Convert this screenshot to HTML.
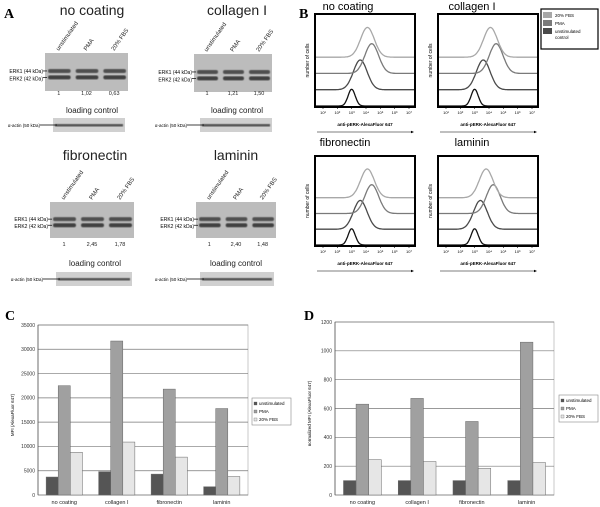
<!DOCTYPE html>
<html><head><meta charset="utf-8"><style>
body{margin:0;background:#fff;}
svg{display:block;font-family:"Liberation Sans",sans-serif;}
</style></head><body>
<svg id="fig" width="600" height="507" viewBox="0 0 600 507">
<defs><filter id="blur"><feGaussianBlur stdDeviation="0.6"/></filter></defs>
<g id="panelA"></g>
<g id="panelB"></g>
<g id="panelC"></g>
<g id="panelD"></g>
</svg>
<script>
const categories = ["no coating","collagen I","fibronectin","laminin"];
const seriesNames = ["unstimulated","PMA","20% FBS"];
const mfiUnstim = [3700, 4800, 4300, 1700];
const mfiPMA = [22500, 31700, 21800, 17800];
const mfiFBS = [8800, 10900, 7800, 3800];
const normUnstim = [100, 100, 100, 100];
const normPMA = [630, 670, 510, 1060];
const normFBS = [245, 232, 185, 225];
const ticksC = [0,5000,10000,15000,20000,25000,30000,35000];
const ticksD = [0,200,400,600,800,1000,1200];
const blotRatios = [["1","1,02","0,63"],["1","1,21","1,50"],["1","2,45","1,78"],["1","2,40","1,48"]];
// histogram peaks (log10 position) per panel: black, unstim control, PMA, FBS
const histPeaks = [[3.0,3.6,4.4,4.1],[3.0,3.6,4.5,4.1],[3.0,3.6,4.4,4.1],[3.0,3.4,4.3,3.8]];
const histTitles = ["no coating","collagen I","fibronectin","laminin"];

const NS="http://www.w3.org/2000/svg";
function mk(parent,tag,attrs,text){const e=document.createElementNS(NS,tag);for(const k in attrs)e.setAttribute(k,attrs[k]);if(text!==undefined)e.textContent=text;parent.appendChild(e);return e;}

/* ---------- Panel A ---------- */
const A=document.getElementById('panelA');
let t=mk(A,'text',{x:4,y:18,'font-family':'Liberation Serif','font-weight':'bold','font-size':14},'A');

const blots=[{title:"no coating",tx:92,ty:15,gx:45,gy:53,gw:83,gh:38,lx:44,ny:95,ly:113,ax:53,ay:118,aw:72},
{title:"collagen I",tx:237,ty:15,gx:194,gy:54,gw:78,gh:38,lx:193,ny:95,ly:113,ax:200,ay:118,aw:72},
{title:"fibronectin",tx:95,ty:160,gx:50,gy:202,gw:84,gh:36,lx:49,ny:246,ly:266,ax:56,ay:272,aw:76},
{title:"laminin",tx:236,ty:160,gx:196,gy:202,gw:80,gh:36,lx:195,ny:246,ly:266,ax:200,ay:272,aw:74}];
blots.forEach((b,i)=>{
  const g=mk(A,'g',{});
  t=mk(g,'text',{x:b.tx,y:b.ty,'font-size':14,'text-anchor':'middle',fill:'#222'},b.title);
  
  const gel=mk(g,'rect',{x:b.gx,y:b.gy,width:b.gw,height:b.gh,fill:'#bcbcbc'});
  
  const lw=b.gw/3;
  for(let l=0;l<3;l++){
    const cx=b.gx+lw*l+3;
    mk(g,'rect',{x:cx,y:b.gy+b.gh*0.42,width:lw-5,height:4,fill:'#505050',rx:2,filter:'url(#blur)'});
    mk(g,'rect',{x:cx,y:b.gy+b.gh*0.59,width:lw-5,height:4,fill:'#404040',rx:2,filter:'url(#blur)'});
    const lab=["unstimulated","PMA","20% FBS"][l];
    const px=b.gx+lw*l+lw/2, py=b.gy-2;
    t=mk(g,'text',{x:px,y:py,'font-size':6,transform:`rotate(-55 ${px} ${py})`,fill:'#222'},lab);
    
    t=mk(g,'text',{x:px,y:b.ny,'font-size':5.5,'text-anchor':'middle',fill:'#222'},blotRatios[i][l]);
    
  }
  mk(g,'text',{x:b.lx-1,y:b.gy+b.gh*0.42+4,'font-size':5,'text-anchor':'end'},'ERK1 (44 kDa)');
  mk(g,'text',{x:b.lx-1,y:b.gy+b.gh*0.59+5,'font-size':5,'text-anchor':'end'},'ERK2 (42 kDa)');
  mk(g,'line',{x1:b.lx-1,x2:b.gx+2,y1:b.gy+b.gh*0.42+2,y2:b.gy+b.gh*0.42+2,stroke:'#000','stroke-width':0.7});
  mk(g,'line',{x1:b.lx-1,x2:b.gx+2,y1:b.gy+b.gh*0.59+2,y2:b.gy+b.gh*0.59+2,stroke:'#000','stroke-width':0.7});
  t=mk(g,'text',{x:b.tx,y:b.ly,'font-size':8,'text-anchor':'middle',fill:'#222'},'loading control');
  
  const ac=mk(g,'rect',{x:b.ax,y:b.ay,width:b.aw,height:14,fill:'#d0d0d0'});
  
  mk(g,'rect',{x:b.ax+2,y:b.ay+6,width:b.aw-4,height:2.5,fill:'#555',filter:'url(#blur)'});
  mk(g,'text',{x:b.ax-13,y:b.ay+9,'font-size':4.5,'text-anchor':'end'},'α-actin (50 kDa)');
  mk(g,'line',{x1:b.ax-13,x2:b.ax+4,y1:b.ay+7,y2:b.ay+7,stroke:'#000','stroke-width':0.7});
});

/* ---------- Panel B ---------- */
const B=document.getElementById('panelB');
t=mk(B,'text',{x:299,y:18,'font-family':'Liberation Serif','font-weight':'bold','font-size':14},'B');

const boxes=[{x:315,y:14,w:100,h:93},{x:438,y:14,w:100,h:93},{x:315,y:156,w:100,h:90},{x:438,y:156,w:100,h:90}];
const titlePos=[[348,10],[472,10],[345,146],[472,146]];
const colors=['#111','#4a4a4a','#7a7a7a','#a8a8a8'];
boxes.forEach((bx,i)=>{
  const g=mk(B,'g',{});
  t=mk(g,'text',{x:titlePos[i][0],y:titlePos[i][1],'font-size':11,'text-anchor':'middle'},histTitles[i]);
  
  const x0=bx.x+8,dec=(bx.w-14)/6;
  const xs=v=>x0+(v-1)*dec;
  const base=bx.y+bx.h-1;
  const step=bx.h*0.175;
  histPeaks[i].forEach((pk,k)=>{
    const by=base-step*k, amp=bx.h*0.18+(k==0?0:bx.h*0.14), w=(k==0?0.25:0.48);
    let d='';
    for(let v=0.4;v<=7.4;v+=0.05){const y=by-amp*Math.exp(-Math.pow((v-pk)/w,2)/2);d+=(d?'L':'M')+xs(v).toFixed(1)+','+y.toFixed(1);}
    const p=mk(g,'path',{d:d,fill:'none',stroke:colors[k],'stroke-width':1.3});
    
  });
  const fr=mk(g,'rect',{x:bx.x,y:bx.y,width:bx.w,height:bx.h,fill:'none',stroke:'#000','stroke-width':2});
  
  for(let e=1;e<=7;e++){
    mk(g,'text',{x:xs(e),y:bx.y+bx.h+7,'font-size':4,'text-anchor':'middle'},'10'+['¹','²','³','⁴','⁵','⁶','⁷'][e-1]);
    mk(g,'line',{x1:xs(e),x2:xs(e),y1:bx.y+bx.h,y2:bx.y+bx.h+2,stroke:'#000','stroke-width':0.6});
  }
  t=mk(g,'text',{x:bx.x+bx.w/2,y:bx.y+bx.h+19,'font-size':4.5,'font-weight':'bold','text-anchor':'middle'},'anti-pERK-AlexaFluor 647');
  
  mk(g,'line',{x1:bx.x+2,x2:bx.x+bx.w-2,y1:bx.y+bx.h+25,y2:bx.y+bx.h+25,stroke:'#000','stroke-width':0.6});
  mk(g,'path',{d:`M${bx.x+bx.w-1},${bx.y+bx.h+25} l-3,-1.2 v2.4z`,fill:'#000'});
  const yx=bx.x-6,yy=bx.y+bx.h*0.5;
  t=mk(g,'text',{x:yx,y:yy,'font-size':5,'text-anchor':'middle',transform:`rotate(-90 ${yx} ${yy})`},'number of cells');
  
});
const lg=mk(B,'g',{});
mk(lg,'rect',{x:541,y:9,width:57,height:40,fill:'#fff',stroke:'#000','stroke-width':1.2});
[['20% FBS','#a8a8a8'],['PMA','#7a7a7a'],['unstimulated','#4a4a4a']].forEach((e,k)=>{
  mk(lg,'rect',{x:543,y:12+k*8,width:9,height:6,fill:e[1]});
  t=mk(lg,'text',{x:555,y:17+k*8,'font-size':4.5},e[0]);
  
});
mk(lg,'text',{x:555,y:39,'font-size':4.5},'control');

/* ---------- Bar charts ---------- */
function barChart(root,letter,lx,cfg,vals,ticks,ytitle){
  t=mk(root,'text',{x:lx,y:320,'font-family':'Liberation Serif','font-weight':'bold','font-size':14},letter);
  
  const {x0,x1,yb,yt,max}=cfg;
  const ys=v=>yb-(v/max)*(yb-yt);
  mk(root,'rect',{x:x0,y:yt,width:x1-x0,height:yb-yt,fill:'#fff',stroke:'#bbb','stroke-width':0.8});
  ticks.forEach(v=>{
    const gl=mk(root,'line',{x1:x0,x2:x1,y1:ys(v),y2:ys(v),stroke:'#777','stroke-width':0.7});
    
    t=mk(root,'text',{x:x0-3,y:ys(v)+1.8,'font-size':5,'text-anchor':'end',fill:'#333'},String(v));
    
  });
  mk(root,'line',{x1:x0,x2:x0,y1:yt,y2:yb,stroke:'#555','stroke-width':0.8});
  const cw=(x1-x0)/categories.length,bw=cw*0.23;
  const fills=['#555','#a0a0a0','#e6e6e6'];
  categories.forEach((c,ci)=>{
    const cx=x0+cw*ci+cw/2;
    vals.forEach((s,si)=>{
      const bx=cx-1.5*bw+si*bw;
      const r=mk(root,'rect',{x:bx,y:ys(s[ci]),width:bw,height:yb-ys(s[ci]),fill:fills[si],stroke:'#666','stroke-width':0.5});
      
      
    });
    t=mk(root,'text',{x:cx,y:yb+9,'font-size':5.5,'text-anchor':'middle',fill:'#222'},c);
    
  });
  const tx=x0-24,ty=(yb+yt)/2+5;
  t=mk(root,'text',{x:tx,y:ty,'font-size':4.5,'text-anchor':'middle',transform:`rotate(-90 ${tx} ${ty})`},ytitle);
  
  const L=mk(root,'g',{});
  mk(L,'rect',{x:cfg.lgx,y:cfg.lgy,width:39,height:27,fill:'#fff',stroke:'#888','stroke-width':0.6});
  seriesNames.forEach((n,k)=>{
    mk(L,'rect',{x:cfg.lgx+2,y:cfg.lgy+4+k*8,width:3,height:3,fill:fills[k],stroke:'#555','stroke-width':0.3});
    t=mk(L,'text',{x:cfg.lgx+7,y:cfg.lgy+7+k*8,'font-size':4.5},n);
    
  });
}
barChart(document.getElementById('panelC'),'C',5,{x0:38,x1:248,yb:495,yt:325,max:35000,lgx:252,lgy:398},[mfiUnstim,mfiPMA,mfiFBS],ticksC,'MFI (AlexaFluor 647)');
barChart(document.getElementById('panelD'),'D',304,{x0:335,x1:554,yb:495,yt:322,max:1200,lgx:559,lgy:395},[normUnstim,normPMA,normFBS],ticksD,'normalized MFI (AlexaFluor 647)');
</script>
</body></html>
